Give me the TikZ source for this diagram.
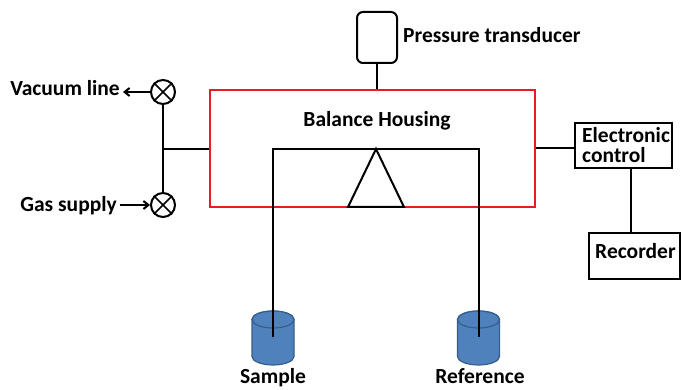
\documentclass[tikz,border=0pt]{standalone}
\usepackage{fontspec}
\setmainfont{Carlito}
\usetikzlibrary{arrows.meta}
\definecolor{housingred}{RGB}{232,30,30}
\definecolor{canfill}{HTML}{4F81BD}
\definecolor{canedge}{HTML}{385D8A}
\begin{document}
\begin{tikzpicture}[x=1pt,y=1pt,
  wire/.style={line width=2pt, black},
  lbl/.style={font=\fontsize{21.5}{24}\selectfont\bfseries, inner sep=0pt},
  box/.style={draw, line width=2pt, inner sep=0pt},
  valve/.style={circle, draw, line width=2pt, minimum size=24pt, inner sep=0pt},
  flow/.style={wire, -{Straight Barb[length=5pt,width=8pt]}},
  can/.style={fill=canfill, draw=canedge, line width=1.2pt}
]
\useasboundingbox (0,0) rectangle (681,389);

% balance housing
\node (housing) [draw=housingred, line width=1.6pt, minimum width=325pt,
  minimum height=117pt, inner sep=0pt] at (372.5,240.5) {};
\node[lbl, anchor=base] (housingtext) at (377,262) {Balance Housing};

% pressure transducer
\node (trans) [box, rounded corners=6pt, minimum width=40pt, minimum height=51pt] at (377,351.5) {};
\draw[wire] (trans.south) -- (trans.south |- housing.north);
\node[lbl, anchor=base west] (transtext) at (403,346) {Pressure transducer};

% sample and reference pans
\foreach \nm/\cx in {sample/273, reference/478.5}{
  \path[can] (\cx-21,69.5) -- (\cx-21,32.5)
    arc[start angle=180, end angle=360, x radius=21pt, y radius=8.5pt]
    -- (\cx+21,69.5)
    arc[start angle=0, end angle=180, x radius=21pt, y radius=8.5pt] -- cycle;
  \draw[can] (\cx,69.5) ellipse[x radius=21pt, y radius=8.5pt];
  \coordinate (\nm hook) at (\cx,52);
}
\node[lbl, anchor=base] (sampletext) at (273,5.5) {Sample};
\node[lbl, anchor=base] (referencetext) at (480,5.5) {Reference};

% beam and fulcrum
\coordinate (beamleft) at (273,240);
\coordinate (beamright) at (478.5,240);
\coordinate (apex) at (376,240);
\draw[wire] (samplehook) -- (beamleft) -- (beamright) -- (referencehook);
\draw[wire, line join=miter] (apex) -- (348,182) -- (404,182) -- cycle;

% valves and gas manifold
\node[valve] (vac) at (163,297) {};
\node[valve] (gas) at (163,184) {};
\foreach \v in {vac,gas}{
  \draw[wire, line width=1.6pt] (\v.45) -- (\v.225) (\v.135) -- (\v.315);
}
\draw[wire] (vac.south) -- (gas.north);
\coordinate (tee) at (163,240);
\draw[wire] (tee) -- (tee -| housing.west);
\node[lbl, anchor=base east] (vactext) at (120,293) {Vacuum line};
\coordinate (vacend) at (123,297);
\draw[flow] (vac.west) -- (vacend);
\node[lbl, anchor=base east] (gastext) at (117,177) {Gas supply};
\coordinate (gasstart) at (120,184);
\draw[flow] (gasstart) -- (gas.west);

% electronic control and recorder
\node[box, minimum width=97pt, minimum height=45pt] (ctrl) at (623.5,243.5) {};
\node[lbl, anchor=base west] (ctrltext1) at (582,246) {Electronic};
\node[lbl, anchor=base west] (ctrltext2) at (582,226) {control};
\draw[wire] (housing.east) -- (housing.east -| ctrl.west);
\node[box, minimum width=91pt, minimum height=46pt] (rec) at (634.5,133) {};
\node[lbl, anchor=base west] (rectext) at (595,131) {Recorder};
\draw[wire] ([xshift=7.5pt]ctrl.south) -- ([xshift=7.5pt]ctrl.south |- rec.north);
\end{tikzpicture}
\end{document}
